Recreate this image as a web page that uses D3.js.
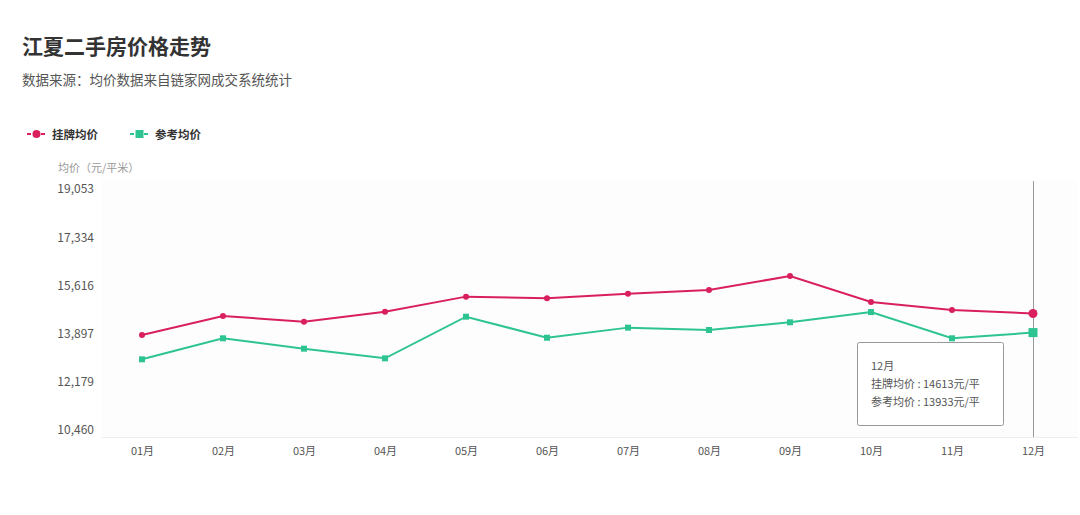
<!DOCTYPE html>
<html><head><meta charset="utf-8">
<script src="https://cdn.jsdelivr.net/npm/d3@7"></script>
<style>
body{margin:0;background:#fff;}
svg{display:block;font-family:"Noto Sans CJK SC","Microsoft YaHei",sans-serif;}
</style></head>
<body><svg id="c" width="1080" height="515"></svg>
<script>
const months = ["01月","02月","03月","04月","05月","06月","07月","08月","09月","10月","11月","12月"];
const listPrice = [13850,14525,14320,14680,15215,15155,15320,15450,15950,15025,14740,14613];
const refPrice  = [12980,13730,13360,13015,14500,13750,14110,14025,14300,14665,13730,13933];
const yTicks = [10460,12179,13897,15616,17334,19053];
const seriesNames = ["挂牌均价","参考均价"];
const colors = ["#d9205c","#2ec491"];

const svg = d3.select("#c");
svg.append("text").attr("x",22).attr("y",54).attr("font-size",21).attr("font-weight","bold").attr("fill","#333").text("江夏二手房价格走势");
svg.append("text").attr("x",22).attr("y",85).attr("font-size",13.5).attr("fill","#555").text("数据来源：均价数据来自链家网成交系统统计");

// legend
const lg = svg.append("g");
[[27,52],[130,155]].forEach((p,i)=>{
  lg.append("line").attr("x1",p[0]).attr("x2",p[0]+19).attr("y1",134).attr("y2",134)
    .attr("stroke",colors[i]).attr("stroke-width",2).attr("stroke-dasharray","4,3");
  if(i===0) lg.append("circle").attr("cx",p[0]+9.5).attr("cy",134).attr("r",4).attr("fill",colors[i]);
  else lg.append("rect").attr("x",p[0]+5.5).attr("y",130).attr("width",8).attr("height",8).attr("fill",colors[i]);
  lg.append("text").attr("x",p[1]).attr("y",138.5).attr("font-size",11.5).attr("font-weight","bold").attr("fill","#333").text(seriesNames[i]);
});

const x = d3.scalePoint().domain(months).range([142,1033]);
const y = d3.scaleLinear().domain([10460,19053]).range([430,189]);

svg.append("rect").attr("x",101).attr("y",181).attr("width",976).attr("height",256).attr("fill","#fdfdfe");
svg.append("text").attr("x",58).attr("y",172).attr("font-size",11).attr("fill","#999").text("均价（元/平米）");

const ya = svg.append("g").attr("transform","translate(94,0)")
  .call(d3.axisLeft(y).tickValues(yTicks).tickSize(0).tickPadding(0).tickFormat(d3.format(",")));
ya.select(".domain").remove();
ya.selectAll("text").attr("font-size",12).attr("fill","#555").attr("font-family","'Noto Sans CJK SC',sans-serif");

const xa = svg.append("g").attr("transform","translate(0,437)")
  .call(d3.axisBottom(x).tickSize(0).tickPadding(10));
xa.select(".domain").attr("stroke","#eee").attr("d","M101,0.5H1078");
xa.selectAll("text").attr("font-size",11).attr("fill","#555").attr("font-family","'Noto Sans CJK SC',sans-serif");

// hover line
svg.append("line").attr("x1",x("12月")+0.5).attr("x2",x("12月")+0.5).attr("y1",181).attr("y2",437).attr("stroke","#999").attr("stroke-width",1);

const line = d3.line().x((d,i)=>x(months[i])).y(d=>y(d));
[listPrice,refPrice].forEach((s,k)=>{
  svg.append("path").datum(s).attr("d",line).attr("fill","none").attr("stroke",colors[k]).attr("stroke-width",2);
});
svg.selectAll(".pt1").data(listPrice).enter().append("circle")
  .attr("cx",(d,i)=>x(months[i])).attr("cy",d=>y(d)).attr("r",(d,i)=>i===11?4.5:3).attr("fill",colors[0]);
svg.selectAll(".pt2").data(refPrice).enter().append("rect")
  .attr("x",(d,i)=>x(months[i])-(i===11?4.5:3)).attr("y",(d,i)=>y(d)-(i===11?4.5:3))
  .attr("width",(d,i)=>i===11?9:6).attr("height",(d,i)=>i===11?9:6).attr("fill",colors[1]);

// tooltip
const tt = svg.append("g").attr("transform","translate(857,342)");
tt.append("rect").attr("x",0.5).attr("y",0.5).attr("width",146).attr("height",83).attr("rx",2)
  .attr("fill","#fff").attr("stroke","#999");
tt.append("text").attr("x",14).attr("y",28).attr("font-size",11).attr("fill","#555").text(months[11]);
tt.append("text").attr("x",14).attr("y",46).attr("font-size",11).attr("fill","#555").text(seriesNames[0]+" : "+listPrice[11]+"元/平");
tt.append("text").attr("x",14).attr("y",64).attr("font-size",11).attr("fill","#555").text(seriesNames[1]+" : "+refPrice[11]+"元/平");
</script></body></html>
